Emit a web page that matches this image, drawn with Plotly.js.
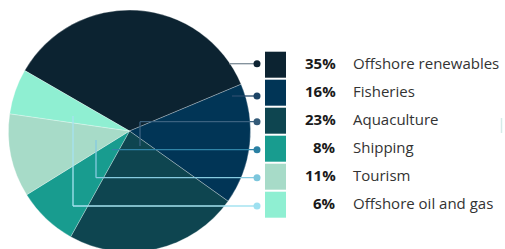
<!DOCTYPE html>
<html><head><meta charset="utf-8">
<script src="https://cdn.plot.ly/plotly-3.0.1.min.js"></script>
<style>html,body{margin:0;padding:0;overflow:hidden;background:#fff;width:505px;height:249px}#chart{width:505px;height:262px}</style>
</head><body><div id="chart"></div>
<script>
const categories = ["Offshore renewables","Fisheries","Aquaculture","Shipping","Tourism","Offshore oil and gas"];
const values = [35,16,23,8,11,6];
const sliceColors = ["#0c2331","#013556","#0e4550","#189c8f","#a7dbc8","#8fefd2"];
const dotColors = ["#0f2433","#1d4466","#335a78","#2a80a3","#7cc6dc","#9ee0f0"];
const lineColors = ["#7f8e98","#2a4d6c","#3b6280","#3085a8","#86cbe0","#a6e3f1"];

const W = 505, H = 262;
const px = x => x / W, py = y => 1 - y / H;

const rowY = [64.7, 92.7, 120.7, 148.7, 176.7, 204.7];
const textY = [63.3, 91.3, 119.3, 147.3, 175.3, 203.3];
const dotY = [63.7, 96, 121.7, 149.7, 177.7, 206];
// connector paths (pixel geometry): [xEnd, yVerticalEnd or null]
const conn = [[229,null],[232,null],[140,146],[112,null],[96,140],[73,116]];

const shapes = [], annotations = [];
categories.forEach((c,i)=>{
  shapes.push({type:'rect',xref:'paper',yref:'paper',x0:px(265),x1:px(286),y0:py(rowY[i]-13),y1:py(rowY[i]+13),fillcolor:sliceColors[i],line:{width:0},layer:'above'});
  const [xe,ye] = conn[i];
  shapes.push({type:'line',xref:'paper',yref:'paper',x0:px(257),x1:px(xe),y0:py(dotY[i]),y1:py(dotY[i]),line:{color:lineColors[i],width:1.3},layer:'above'});
  if(ye!==null) shapes.push({type:'line',xref:'paper',yref:'paper',x0:px(xe),x1:px(xe),y0:py(dotY[i]),y1:py(ye),line:{color:lineColors[i],width:1.3},layer:'above'});
  shapes.push({type:'circle',xref:'paper',yref:'paper',x0:px(253.5),x1:px(260.5),y0:py(dotY[i]-3.5),y1:py(dotY[i]+3.5),fillcolor:dotColors[i],line:{width:0},layer:'above'});
  annotations.push({xref:'paper',yref:'paper',x:px(337.5),y:py(textY[i]),xanchor:'right',yanchor:'middle',showarrow:false,text:'<b>'+values[i]+'%</b>',font:{family:'Open Sans',size:15,color:'#1a1a1a'}});
  annotations.push({xref:'paper',yref:'paper',x:px(351.3),y:py(textY[i]),xanchor:'left',yanchor:'middle',showarrow:false,text:c,font:{family:'Open Sans',size:15,color:'#333333'}});
});
shapes.push({type:'line',xref:'paper',yref:'paper',x0:px(501.5),x1:px(501.5),y0:py(118),y1:py(133),line:{color:'#d5ebe8',width:1.5}});

const data = [{
  type:'pie', labels:categories, values:values, sort:false, direction:'clockwise', rotation:-60,
  marker:{colors:sliceColors, line:{color:'rgba(255,255,255,0.35)',width:0.8}},
  textinfo:'none', hoverinfo:'label+percent', showlegend:false,
  domain:{x:[px(8.5),px(250.5)], y:[py(252),py(10)]}
}];
const layout = {width:W,height:H,margin:{l:0,r:0,t:0,b:0},paper_bgcolor:'#fff',plot_bgcolor:'#fff',shapes:shapes,annotations:annotations,showlegend:false};
Plotly.newPlot('chart',data,layout,{displayModeBar:false,staticPlot:true});
</script></body></html>
